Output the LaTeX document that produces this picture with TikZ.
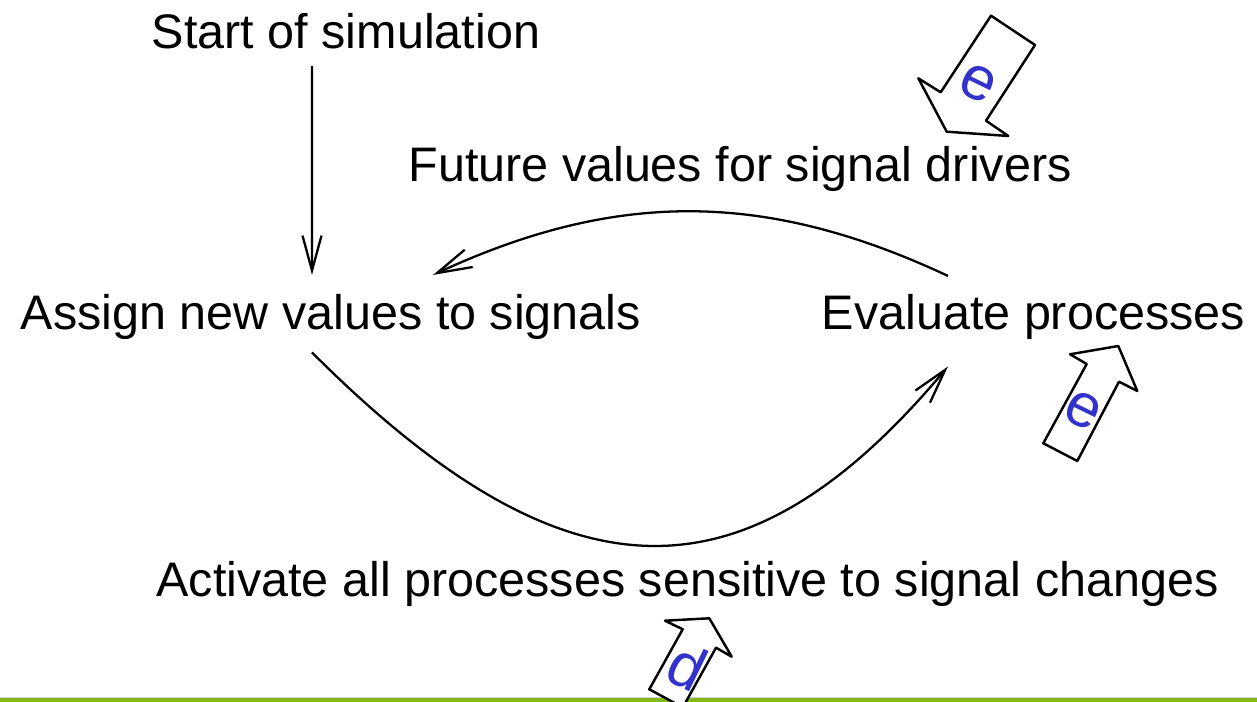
\documentclass[tikz,border=0pt]{standalone}
\usepackage{fontspec}
\setmainfont{Liberation Sans}
\usetikzlibrary{arrows.meta}
\definecolor{lblue}{RGB}{51,51,204}
\definecolor{bargreen}{RGB}{132,186,24}
\tikzstyle{arrow} = [line width=1.3pt,-{Straight Barb[length=0.7cm,width=0.38cm]}]
\tikzset{
 t/.style
  = {font=\fontsize{27.6}{33}\selectfont, anchor=base, inner sep=6pt},
 blk/.style
  = {draw, line width=1.4pt, fill=white, line join=round},
 lt/.style
  = {font=\fontsize{35}{42}\selectfont, text=lblue, rotate=-26, inner sep=0pt},
}

\begin{document}
\begin{tikzpicture}

\useasboundingbox (0,0) rectangle (25.14,14.04);

% Green bar
\fill[bargreen] (0,0) rectangle (25.14,0.085);
\draw[gray!35, line width=0.5pt] (0,0.1) -- (25.14,0.1);

% Steps
\node[t] (start) at (6.92,13.07) {Start of simulation};
\node[t] (future) at (14.8,10.4) {Future values for signal drivers};
\node[t] (assign) at (6.62,7.45) {Assign new values to signals};
\node[t] (evaluate) at (20.67,7.45) {Evaluate processes};
\node[t] (activate) at (13.75,2.1) {Activate all processes sensitive to signal changes};

% Connectors
\draw[arrow] ([xshift=-0.68cm,yshift=-0.12cm]start.south)
    -- ([xshift=-0.38cm,yshift=0.17cm]assign.north);
\draw[arrow] ([xshift=-1.71cm,yshift=0.15cm]evaluate.north)
    to[bend right=25] ([xshift=2.04cm,yshift=0.17cm]assign.north);
\draw[arrow] ([xshift=-0.38cm,yshift=-0.04cm]assign.south)
    .. controls +(-45:7.2cm) and +(-130:6.3cm) ..
    ([xshift=-1.71cm,yshift=-0.32cm]evaluate.south);

% Block arrow e (top)
\draw[blk] (19.82,13.726) -- (20.70,13.14) -- (19.72,11.626) -- (20.166,11.32)
    -- (18.934,11.406) -- (18.366,12.474) -- (18.814,12.194) -- cycle;
\node[lt] (e1) at (19.56,12.38) {e};

% Block arrow e (right)
\draw[blk] (20.866,5.174) -- (21.546,4.82) -- (22.38,6.406) -- (22.746,6.22)
    -- (22.366,7.12) -- (21.40,6.954) -- (21.734,6.76) -- cycle;
\node[lt] (e2) at (21.666,5.84) {e};

% Block arrow d (bottom)
\draw[blk] (12.986,0.254) -- (13.656,-0.108) -- (14.32,1.086) -- (14.634,0.906)
    -- (14.186,1.674) -- (13.30,1.626) -- (13.654,1.454) -- cycle;
\node[lt] (d1) at (13.76,0.72) {d};

\end{tikzpicture}
\end{document}
